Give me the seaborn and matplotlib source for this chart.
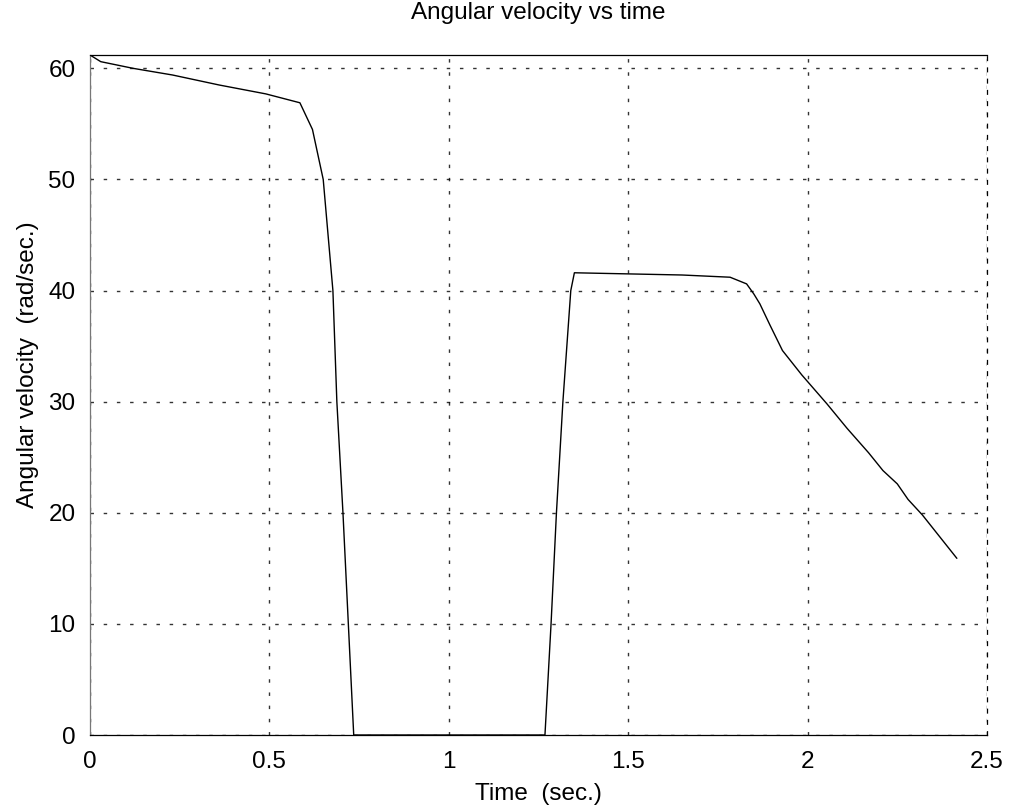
import matplotlib
matplotlib.use("Agg")
import matplotlib.pyplot as plt
import seaborn as sns
import pandas as pd

# ---- data ----
time_s = [0.0, 0.03, 0.12, 0.23, 0.36, 0.49, 0.585, 0.62, 0.65, 0.677, 0.688,
          0.705, 0.72, 0.735, 1.268, 1.285, 1.30, 1.318, 1.34, 1.35, 1.50,
          1.65, 1.784, 1.83, 1.85, 1.867, 1.895, 1.93, 1.984, 2.054, 2.11,
          2.17, 2.21, 2.25, 2.28, 2.32, 2.416]
omega = [61.2, 60.6, 60.0, 59.4, 58.5, 57.7, 56.9, 54.5, 50.0, 40.0, 30.0,
         20.0, 10.0, 0.0, 0.0, 10.0, 20.0, 30.0, 40.0, 41.6, 41.5,
         41.4, 41.2, 40.6, 39.7, 38.8, 36.9, 34.6, 32.4, 29.8, 27.6,
         25.4, 23.8, 22.6, 21.2, 19.8, 15.9]
x_ticks = [0, 0.5, 1, 1.5, 2, 2.5]
x_tick_labels = ["0", "0.5", "1", "1.5", "2", "2.5"]
y_ticks = [0, 10, 20, 30, 40, 50, 60]
y_tick_labels = ["0", "10", "20", "30", "40", "50", "60"]

sns.set_theme(style="white")
plt.rcParams['font.family'] = ['Liberation Sans', 'DejaVu Sans']
plt.rcParams['text.color'] = 'black'
plt.rcParams['axes.labelcolor'] = 'black'

df = pd.DataFrame({"t": time_s, "w": omega})

W, H = 1011, 810
L, R, T, B = 90, 987, 55, 735
fig = plt.figure(figsize=(W / 100, H / 100), dpi=100)
ax = fig.add_axes([L / W, 1 - B / H, (R - L) / W, (B - T) / H])

sns.lineplot(data=df, x="t", y="w", ax=ax, sort=False, estimator=None,
             color="black", linewidth=1.0)

ax.set_xlim(0, 2.5)
ax.set_ylim(0, 61.2)
ax.set_xticks(x_ticks)
ax.set_xticklabels(x_tick_labels, fontsize=17.5, color="black")
ax.set_yticks(y_ticks)
ax.set_yticklabels(y_tick_labels, fontsize=17.5, color="black")
ax.tick_params(direction="in", length=5, width=0.8, colors="black")
ax.tick_params(axis="y", pad=10.5)
ax.tick_params(axis="x", pad=11.5)

ax.grid(True, color="black", linestyle=(0, (2.5, 7)), linewidth=1.0, alpha=0.8)
for s in ax.spines.values():
    s.set_visible(True)
    s.set_color("black")
    s.set_linewidth(0.9)
ax.spines["left"].set_color("#777777")
ax.spines["right"].set_linestyle((0, (3, 6)))

ax.set_title("Angular velocity vs time", fontsize=17.5, color="black",
             y=1 + (T - 13) / (B - T), va="center", pad=0)
ax.set_xlabel("Time  (sec.)", fontsize=17.5, color="black")
ax.xaxis.label.set_va("center")
ax.xaxis.set_label_coords(0.5, -(794 - B) / (B - T))
ax.set_ylabel("Angular velocity  (rad/sec.)", fontsize=17.5, color="black")
ax.yaxis.label.set_va("center")
ax.yaxis.set_label_coords(-(L - 28) / (R - L), (B - 365) / (B - T))

fig.savefig("out.png", dpi=100, facecolor="white")
